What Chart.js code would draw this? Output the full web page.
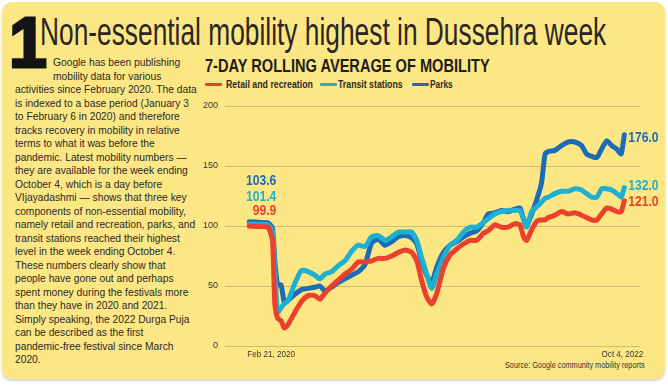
<!DOCTYPE html>
<html>
<head>
<meta charset="utf-8">
<script src="https://cdn.jsdelivr.net/npm/chart.js@4.4.0/dist/chart.umd.min.js"></script>
<style>
  body { margin:0; background:#fff; width:668px; height:389px; overflow:hidden; position:relative;
         font-family:"Liberation Sans", sans-serif; color:#231f20; }
  #card { position:absolute; left:2px; top:2px; width:663px; height:377px; background:#fde784;
          border-radius:10px; box-shadow:0 2px 3px rgba(0,0,0,0.18); }
  .abs { position:absolute; white-space:nowrap; }
  .fit { display:inline-block; transform-origin:0 0; }
  #title { left:40px; top:13px; font-size:38px; line-height:38px; color:#2a2626; }
  #bigone { left:9px; top:7px; font-weight:bold; font-size:71px; line-height:71px;
            -webkit-text-stroke:3px #141414; color:#141414; transform:scaleX(0.96); transform-origin:0 0; }
  #para { left:15px; top:56px; font-size:11.5px; line-height:13.5px; transform-origin:0 0; color:#2a2a2a; }
  #para div { white-space:nowrap; }
  #sub { left:205px; top:56px; font-size:19px; line-height:19px; font-weight:bold; color:#1d1d1b; }
  .leg { top:78px; font-size:10.5px; line-height:12px; font-weight:bold; color:#2a2a2a; }
  .sw { position:absolute; top:82.5px; height:3.5px; border-radius:1px; }
  #src { left:505px; top:360px; font-size:8.5px; line-height:10px; color:#333; }
  #chartBox { position:absolute; left:195px; top:90px; width:473px; height:290px; }
</style>
</head>
<body>
<div id="card"></div>
<div id="bigone" class="abs">1</div>
<div id="title" class="abs"><span class="fit" data-w="566">Non-essential mobility highest in Dussehra week</span></div>
<div id="para" class="abs">
  <div class="ind">Google has been publishing</div>
  <div class="ind">mobility data for various</div>
  <div id="refline">activities since February 2020. The data</div>
  <div>is indexed to a base period (January 3</div>
  <div>to February 6 in 2020) and therefore</div>
  <div>tracks recovery in mobility in relative</div>
  <div>terms to what it was before the</div>
  <div>pandemic. Latest mobility numbers —</div>
  <div>they are available for the week ending</div>
  <div>October 4, which is a day before</div>
  <div>VIjayadashmi — shows that three key</div>
  <div>components of non-essential mobility,</div>
  <div>namely retail and recreation, parks, and</div>
  <div>transit stations reached their highest</div>
  <div>level in the week ending October 4.</div>
  <div>These numbers clearly show that</div>
  <div>people have gone out and perhaps</div>
  <div>spent money during the festivals more</div>
  <div>than they have in 2020 and 2021.</div>
  <div>Simply speaking, the 2022 Durga Puja</div>
  <div>can be described as the first</div>
  <div>pandemic-free festival since March</div>
  <div>2020.</div>
</div>
<div id="sub" class="abs"><span class="fit" data-w="285">7-DAY ROLLING AVERAGE OF MOBILITY</span></div>
<div id="legend"></div>
<div id="src" class="abs"><span class="fit" data-w="140">Source: Google community mobility reports</span></div>
<div id="chartBox"><canvas id="mobility" width="473" height="290"></canvas></div>

<script>
// days since Feb 21, 2020 (last point = Oct 4, 2022)
const days = [0,31,48,59,65,72,81,89,99,116,133,150,167,180,193,210,227,244,261,278,
  295,312,329,346,363,380,397,414,427,439,452,465,478,495,512,529,546,563,580,597,
  609,626,643,660,677,690,699,707,720,733,745,754,762,779,796,813,830,847,860,873,
  886,898,911,924,937,948,956];

const retail = [99.9,99.5,99,88,35,23,21,15,18,28,37,42,42,39,44,50,55,60,64,70,
  70,71,73,73,75,78,80,78,71,55,41,35,44,65,76,81,85,88,88,94,
  96,101,99,99,102,101,91,88,97,104,105,105,107,109,112,110,111,109,107,105,
  105,110,115,114,112,112,121];

const transit = [101.4,101.5,101,95,63,28,32,35,38,52,63,62,59,56,60,62,67,71,79,84,
  83,91,92,88,91,95,95,95,88,74,60,48,60,74,84,88,95,99,99,103,
  106,110,112,113,113,113,106,99,112,116,120,123,124,127,129,129,131,130,127,124,
  124,131,131,130,127,124,132];

const parks = [103.6,103,102.5,98,71,51,51,37,38,43,47,48,49,50,46,49,53,56,59,62,
  68,86,89,84,87,91,92,90,85,71,59,53,66,78,84,87,91,94,96,103,
  110,111,113,112,114,115,106,100,110,122,136,160,162,163,167,170,170,167,160,158,
  157,164,171,167,164,160,176];

const seriesNames = ['Retail and recreation', 'Transit stations', 'Parks'];
const seriesColors = ['#ea402d', '#1eb0d2', '#1b6cb6'];
const yTicks = [0, 50, 100, 150, 200];
const xLabelDays = [0, 956];
const xLabels = ['Feb 21, 2020', 'Oct 4, 2022'];

// legend in html
const legendPos = [[205, 226, 87], [320, 338, 65], [412, 430, 23]];
const legend = document.getElementById('legend');
seriesNames.forEach((name, i) => {
  const p = legendPos[i];
  const sw = document.createElement('div');
  sw.className = 'sw';
  sw.style.left = p[0] + 'px';
  sw.style.width = '17px';
  sw.style.background = seriesColors[i];
  legend.appendChild(sw);
  const t = document.createElement('div');
  t.className = 'abs leg';
  t.style.left = p[1] + 'px';
  t.innerHTML = '<span class="fit" data-w="' + p[2] + '">' + name + '</span>';
  legend.appendChild(t);
});

// squeeze text to the widths in the picture
document.querySelectorAll('.fit').forEach(el => {
  const w = +el.dataset.w;
  el.style.transform = 'scaleX(' + (w / el.offsetWidth) + ')';
});
const para = document.getElementById('para');
const ref = document.getElementById('refline');
const probe = document.createElement('span');
probe.textContent = ref.textContent;
ref.textContent = '';
ref.appendChild(probe);
const paraScale = 182 / probe.offsetWidth;
para.style.transform = 'scaleX(' + paraScale + ')';
document.querySelectorAll('#para .ind').forEach(el => { el.style.paddingLeft = (38 / paraScale) + 'px'; });

const toPoints = vals => vals.map((v, i) => ({ x: days[i], y: v }));

const startShift = [-15, -28, -41];
const endShift = [1, -2, 3];

// narrow text on canvas: squeeze horizontally
function squeezed(ctx, text, x, y, align, sx) {
  ctx.save();
  ctx.translate(x, y);
  ctx.scale(sx, 1);
  ctx.textAlign = align;
  ctx.fillText(text, 0, 0);
  ctx.restore();
}

const labelPlugin = {
  id: 'valueLabels',
  afterDatasetsDraw(chart) {
    const { ctx, scales: { x, y } } = chart;
    ctx.save();
    ctx.font = 'bold 15.5px "Liberation Sans"';
    ctx.textBaseline = 'middle';
    chart.data.datasets.forEach((ds, i) => {
      const first = ds.data[0];
      const last = ds.data[ds.data.length - 1];
      ctx.fillStyle = ds.borderColor;
      squeezed(ctx, first.y.toFixed(1), x.getPixelForValue(first.x) + 27, y.getPixelForValue(first.y) + startShift[i], 'right', 0.78);
      squeezed(ctx, last.y.toFixed(1), x.getPixelForValue(last.x) + 4, y.getPixelForValue(last.y) + endShift[i], 'left', 0.78);
    });
    ctx.font = '9.5px "Liberation Sans"';
    ctx.fillStyle = '#333';
    ctx.textBaseline = 'alphabetic';
    squeezed(ctx, xLabels[0], x.getPixelForValue(xLabelDays[0]) - 2, y.bottom + 11, 'left', 0.85);
    squeezed(ctx, xLabels[1], x.getPixelForValue(xLabelDays[1]) + 19, y.bottom + 11, 'right', 0.85);
    ctx.restore();
  }
};

new Chart(document.getElementById('mobility').getContext('2d'), {
  type: 'line',
  data: {
    datasets: [
      { label: seriesNames[0], data: toPoints(retail), borderColor: seriesColors[0] },
      { label: seriesNames[1], data: toPoints(transit), borderColor: seriesColors[1] },
      { label: seriesNames[2], data: toPoints(parks), borderColor: seriesColors[2] }
    ]
  },
  options: {
    responsive: false,
    animation: false,
    layout: { padding: { top: 16, right: 28, left: 0, bottom: 0 } },
    elements: {
      line: { borderWidth: 5, borderJoinStyle: 'round', borderCapStyle: 'round', tension: 0.2, fill: false },
      point: { radius: 0 }
    },
    plugins: { legend: { display: false }, tooltip: { enabled: false } },
    scales: {
      x: {
        type: 'linear', min: -62, max: 996,
        grid: { display: false }, border: { display: false },
        ticks: { display: false },
        afterFit: s => { s.height = 34; }
      },
      y: {
        min: 0, max: 200,
        afterBuildTicks: s => { s.ticks = yTicks.map(v => ({ value: v })); },
        afterFit: s => { s.width = 30; },
        grid: { color: '#c9bd7c', lineWidth: 1, drawTicks: false },
        border: { display: false },
        ticks: { padding: 7, color: '#333', font: { family: 'Liberation Sans', size: 9 } }
      }
    }
  },
  plugins: [labelPlugin]
});
</script>
</body>
</html>
